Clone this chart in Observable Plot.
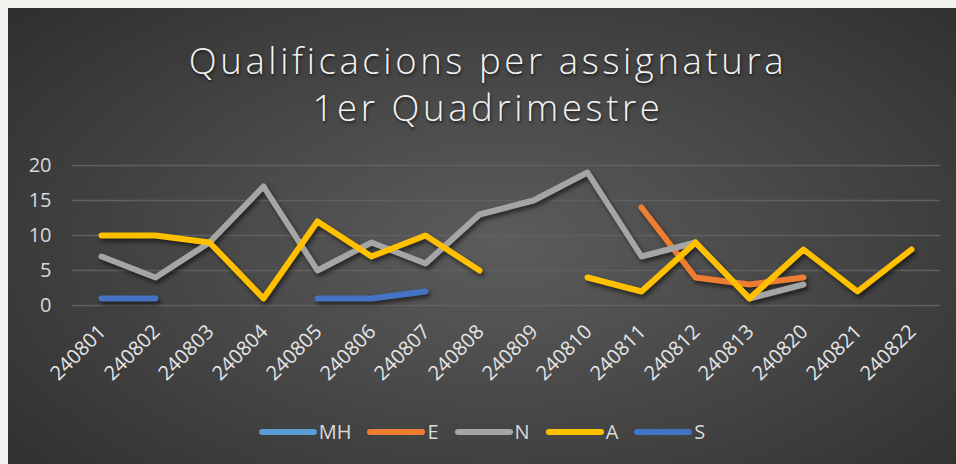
<!DOCTYPE html>
<html>
<head>
<meta charset="utf-8">
<script src="https://cdn.jsdelivr.net/npm/d3@7"></script>
<script src="https://cdn.jsdelivr.net/npm/@observablehq/plot@0.6"></script>
<style>
  html, body { margin: 0; padding: 0; }
  body { width: 956px; height: 464px; background: #f4f2ee; position: relative; overflow: hidden; font-family: "Open Sans", sans-serif; }
  #panel { position: absolute; left: 8px; top: 8px; width: 948px; height: 456px;
    background: radial-gradient(ellipse 75% 85% at 52% 52%, #5c5c5c 0%, #494949 40%, #2b2b2b 100%); }
  .title { position: absolute; left: 6px; width: 948px; text-align: center; color: #f2f2f2;
    font-family: "Open Sans", sans-serif; font-weight: 300; font-size: 36.5px; letter-spacing: 3.6px;
    text-shadow: 1px 2px 3px rgba(0,0,0,0.6); white-space: nowrap; }
  #chart { position: absolute; left: 0; top: 132px; }
  #legend { position: absolute; left: 0; width: 948px; top: 410px; display: flex; justify-content: center; align-items: center;
    color: #d9d9d9; font-family: "Open Sans", sans-serif; font-size: 20px; }
  .item { display: flex; align-items: center; margin: 0 8px; }
  .sw { width: 58px; height: 6px; border-radius: 3px; margin-right: 2px; }
</style>
</head>
<body>
<div id="panel">
  <div class="title" style="top:27px">Qualificacions per assignatura</div>
  <div class="title" style="top:74px">1er Quadrimestre</div>
  <div id="chart"></div>
  <div id="legend"></div>
</div>
<script>
const categories = ["240801","240802","240803","240804","240805","240806","240807","240808","240809","240810","240811","240812","240813","240820","240821","240822"];
const seriesNames = ["MH","E","N","A","S"];
const seriesColors = ["#5b9bd5","#ed7d31","#a5a5a5","#ffc000","#4472c4"];
const MH = [null,null,null,null,null,null,null,null,null,null,null,null,null,null,null,null];
const E  = [null,null,null,null,null,null,null,null,null,null,14,4,3,4,null,null];
const N  = [7,4,9,17,5,9,6,13,15,19,7,9,1,3,null,null];
const A  = [10,10,9,1,12,7,10,5,null,4,2,9,1,8,2,8];
const S  = [1,1,null,null,1,1,2,null,null,null,null,null,null,null,null,null];
const yTicks = [0,5,10,15,20];

const seriesValues = {MH, E, N, A, S};
const data = [];
for (const s of seriesNames) {
  seriesValues[s].forEach((v, i) => data.push({cat: categories[i], series: s, value: v}));
}

const plot = Plot.plot({
  width: 948,
  height: 268,
  marginLeft: 64,
  marginRight: 16,
  marginTop: 25,
  marginBottom: 103,
  style: { background: "transparent", color: "#d9d9d9", fontFamily: "Open Sans, sans-serif" },
  x: { type: "point", domain: categories, padding: 0.5, label: null },
  y: { domain: [0, 20], ticks: yTicks, label: null },
  color: { domain: seriesNames, range: seriesColors },
  marks: [
    Plot.gridY(yTicks, { stroke: "#606060", strokeOpacity: 1, strokeWidth: 1.5 }),
    Plot.axisY(yTicks, { tickSize: 0, tickPadding: 21, fontSize: 20, fill: "#d9d9d9", label: null }),
    Plot.axisX(categories, { tickSize: 0, tickRotate: -45, tickPadding: 23, dx: 1, fontSize: 20, fill: "#e6e6e6", label: null }),
    Plot.lineY(data, { x: "cat", y: "value", z: "series", stroke: "series", strokeWidth: 6,
      strokeLinecap: "round", strokeLinejoin: "round", curve: "linear" })
  ]
});
document.getElementById("chart").appendChild(plot);
d3.select(plot).selectAll("g[aria-label='line']").style("filter", "drop-shadow(2px 3px 2px rgba(0,0,0,0.55))");

const legend = document.getElementById("legend");
seriesNames.forEach((s, i) => {
  const it = document.createElement("div");
  it.className = "item";
  const sw = document.createElement("div");
  sw.className = "sw";
  sw.style.background = seriesColors[i];
  const lb = document.createElement("span");
  lb.textContent = s;
  it.appendChild(sw); it.appendChild(lb);
  legend.appendChild(it);
});
</script>
</body>
</html>
